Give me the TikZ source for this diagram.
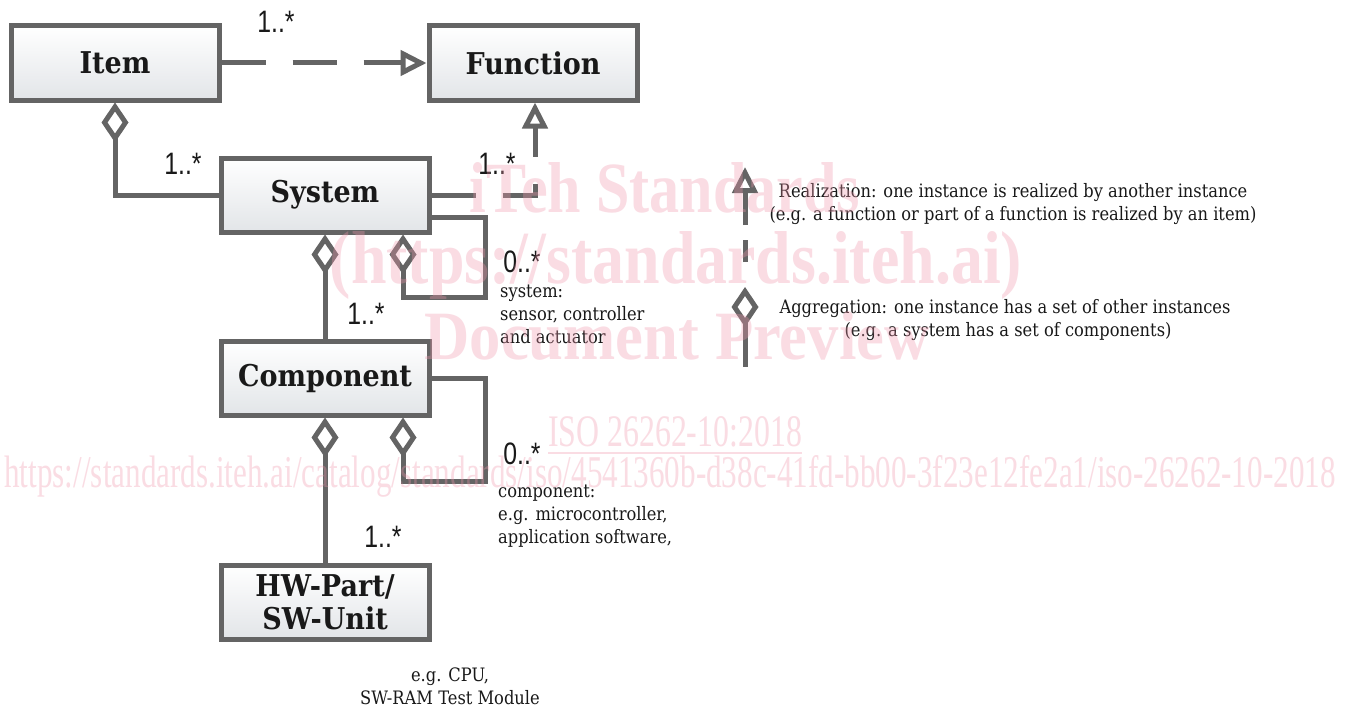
\documentclass[tikz,border=0pt]{standalone}
\usepackage{fontspec}
\usepackage{graphicx}
\setmainfont{DejaVu Serif}
\newfontfamily\boxfont{DejaVu Serif}[FakeStretch=0.9]
\newfontfamily\notefont{DejaVu Serif}[FakeStretch=0.88]
\newfontfamily\multfont{Liberation Sans}[FakeStretch=0.8]
\newfontfamily\wmfont{Liberation Serif}
\usetikzlibrary{arrows.meta,calc}
\definecolor{lg}{RGB}{100,100,100}
\definecolor{boxbot}{RGB}{226,229,232}
\definecolor{txt}{RGB}{25,25,25}
\definecolor{wmpink}{RGB}{240,150,172}
\begin{document}
\begin{tikzpicture}[x=1pt,y=-1pt,
  box/.style={draw=lg, line width=5pt, top color=white, bottom color=boxbot,
    minimum width=208pt, minimum height=74pt, inner sep=0pt,
    font=\boxfont\bfseries\fontsize{30}{33}\selectfont, text=txt, align=center},
  conn/.style={draw=lg, line width=5pt},
  aggr/.style={conn, {Diamond[open,length=40pt,width=27pt]}-},
  real/.style={conn, -{Triangle[open,length=26pt,width=25pt]}, dash pattern=on 44pt off 27pt},
  mult/.style={font=\multfont\fontsize{31}{33}\selectfont, text=txt, inner sep=0pt},
  note/.style={font=\notefont\fontsize{18.5}{23}\selectfont, text=txt, inner sep=0pt},
  wm/.style={text=wmpink, opacity=0.33, inner sep=0pt}
]
\useasboundingbox[fill=white] (0,0) rectangle (1351,709);

% boxes
\node[box] (item) at (115,63) {Item};
\node[box] (func) at (533,63) {Function};
\node[box] (sys)  at (325,195) {System};
\node[box] (comp) at (325,378) {Component};
\node[box] (hw)   at (325,602) {HW-Part/\\SW-Unit};

% loop corners
\coordinate (sl1) at (403,297);
\coordinate (sl2) at (485,297);
\coordinate (sl3) at (485,217);
\coordinate (cl1) at (403,481);
\coordinate (cl2) at (485,481);
\coordinate (cl3) at (485,378);
\coordinate (rc)  at (535,195);

% connectors
\draw[real] (item.east) -- (func.west);
\draw[real] (sys.east) -- (rc) -- (func.south -| rc);
\draw[aggr] (item.south) |- (sys.west);
\draw[aggr] (sys.south) -- (comp.north);
\draw[aggr] (sys.south -| sl1) -- (sl1) -- (sl2) -- (sl3) -- (sys.east |- sl3);
\draw[aggr] (comp.south) -- (hw.north);
\draw[aggr] (comp.south -| cl1) -- (cl1) -- (cl2) -- (cl3) -- (comp.east |- cl3);

% multiplicities
\node[mult] (m1) at (276,22) {1..*};
\node[mult] (m2) at (183,164) {1..*};
\node[mult] (m3) at (497,164) {1..*};
\node[mult] (m4) at (366,314) {1..*};
\node[mult] (m5) at (522,262) {0..*};
\node[mult] (m6) at (383,537) {1..*};
\node[mult] (m7) at (522,454) {0..*};

% notes
\node[note, anchor=north west, align=left] (n1) at (500,285) {system:\\sensor, controller\\and actuator};
\node[note, anchor=north west, align=left] (n2) at (498,485) {component:\\e.g. microcontroller,\\application software,};
\node[note, align=center] (n3) at (450,686) {e.g. CPU,\\SW-RAM Test Module};

% legend
\coordinate (lr1) at (745,262);
\coordinate (lr2) at (745,167);
\coordinate (la1) at (745,287);
\coordinate (la2) at (745,367);
\draw[conn, -{Triangle[open,length=26pt,width=25pt]}, dash pattern=on 22pt off 15pt on 200pt off 0pt] (lr1) -- (lr2);
\draw[aggr] (la1) -- (la2);
\node[note, align=center] (lt1) at (1013,204) {Realization: one instance is realized by another instance\\(e.g. a function or part of a function is realized by an item)};
\node[note, align=center] (lt2) at (1005,320) {Aggregation: one instance has a set of other instances\\\hspace*{6pt}(e.g. a system has a set of components)};

% watermark
\node[wm] (w1) at (665,188) {\resizebox{390pt}{50pt}{\wmfont\bfseries iTeh Standards}};
\node[wm] (w2) at (676,265) {\resizebox{692pt}{52pt}{\wmfont\bfseries (https://standards.iteh.ai)}};
\node[wm] (w3) at (677,336) {\resizebox{505pt}{48pt}{\wmfont\bfseries Document Preview}};
\node[wm] (w4) at (675,436) {\resizebox{254pt}{30pt}{\wmfont\underline{ISO 26262-10:2018}}};
\node[wm] (w5) at (670,476) {\resizebox{1331pt}{32pt}{\wmfont https://standards.iteh.ai/catalog/standards/iso/4541360b-d38c-41fd-bb00-3f23e12fe2a1/iso-26262-10-2018}};
\end{tikzpicture}
\end{document}
